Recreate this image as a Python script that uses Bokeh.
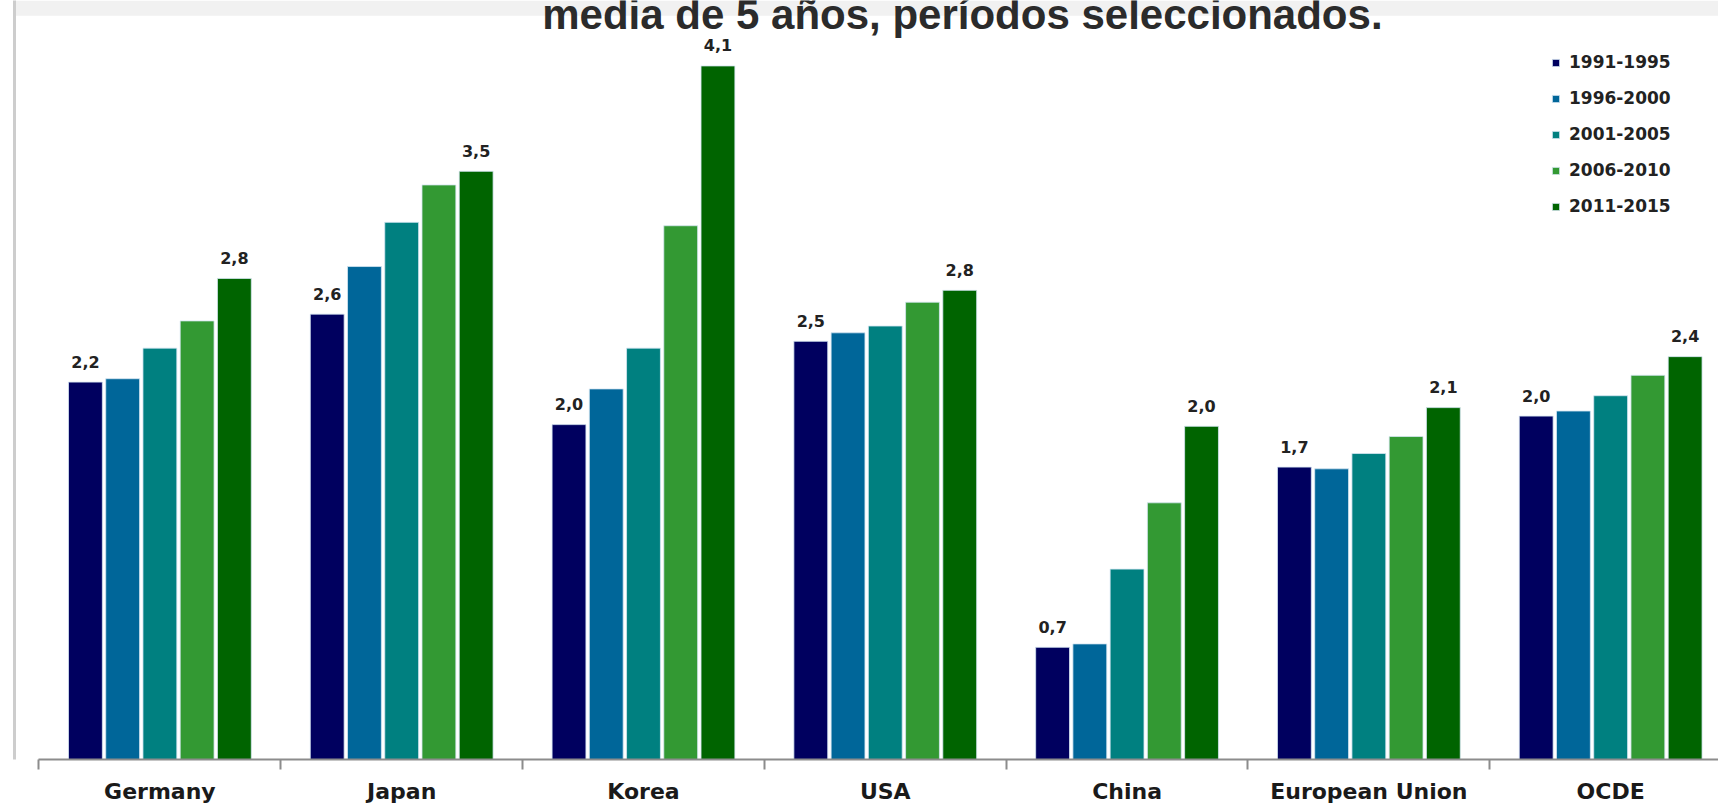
from bokeh.plotting import figure
from bokeh.models import (ColumnDataSource, Range1d, FixedTicker, LinearAxis,
                          Legend, LegendItem, Label, BoxAnnotation)
from bokeh.transform import dodge
from bokeh.core.properties import value
from bokeh.embed import file_html
from bokeh.resources import INLINE

# ---------------- data ----------------
categories = ["Germany", "Japan", "Korea", "USA", "China", "European Union", "OCDE"]
periods = ["1991-1995", "1996-2000", "2001-2005", "2006-2010", "2011-2015"]
v1991_1995 = [2.22, 2.62, 1.97, 2.46, 0.66, 1.72, 2.02]
v1996_2000 = [2.24, 2.90, 2.18, 2.51, 0.68, 1.71, 2.05]
v2001_2005 = [2.42, 3.16, 2.42, 2.55, 1.12, 1.80, 2.14]
v2006_2010 = [2.58, 3.38, 3.14, 2.69, 1.51, 1.90, 2.26]
v2011_2015 = [2.83, 3.46, 4.08, 2.76, 1.96, 2.07, 2.37]
title_text = "media de 5 años, períodos seleccionados."

# ---------------- styles ----------------
colors = ["#00005f", "#006699", "#008080", "#339933", "#006400"]
series = [v1991_1995, v1996_2000, v2001_2005, v2006_2010, v2011_2015]
pitch = 0.154
bar_w = 0.14
offsets = [(k - 2) * pitch for k in range(len(periods))]
label_font = "DejaVu Sans"

pos = list(range(1, len(categories) + 1))
bounds_ticks = [i + 0.5 for i in range(0, len(categories) + 1)]

data = dict(pos=pos, cat=categories)
for k, s in enumerate(series):
    data["s%d" % k] = s
src = ColumnDataSource(data)

p = figure(width=1718, height=806,
           x_range=Range1d(0.3987, 7.446), y_range=Range1d(0, 4.465),
           x_axis_type=None, y_axis_type=None,
           output_backend="svg", toolbar_location=None,
           min_border_left=14, min_border_right=0, min_border_top=0,
           min_border_bottom=0)
p.outline_line_color = None
p.background_fill_color = "white"
p.border_fill_color = "white"

# light grey strip along the top edge
p.add_layout(BoxAnnotation(bottom=4.376, fill_color="#f1f1f1", fill_alpha=1.0,
                           line_color=None, level="underlay"))

items = []
for k, name in enumerate(periods):
    r = p.vbar(x=dodge("pos", offsets[k], range=p.x_range), top="s%d" % k,
               width=bar_w, source=src, fill_color=colors[k],
               line_color="#d6e6f2", line_width=0.8)
    items.append(LegendItem(label=name, renderers=[r]))

# value labels on the first and last period
def fmt(v):
    return ("%.1f" % v).replace(".", ",")

for k in (0, len(periods) - 1):
    lsrc = ColumnDataSource(dict(
        pos=pos,
        y=[v + 0.085 for v in series[k]],
        text=[fmt(v) for v in series[k]]))
    p.text(x=dodge("pos", offsets[k], range=p.x_range), y="y", text="text",
           source=lsrc, text_align="center", text_baseline="bottom",
           text_font=value(label_font), text_font_style="bold",
           text_font_size="16px", text_color="#222222")

# x axis: labels at category centres, tick marks between categories
xaxis = LinearAxis(
    ticker=FixedTicker(ticks=pos, minor_ticks=bounds_ticks),
    major_label_overrides={i: c for i, c in zip(pos, categories)},
    bounds=(0.5, len(categories) + 0.5))
xaxis.axis_line_color = "#8c8c8c"
xaxis.axis_line_width = 2
xaxis.major_tick_line_color = None
xaxis.major_tick_out = 0
xaxis.major_tick_in = 0
xaxis.minor_tick_line_color = "#8c8c8c"
xaxis.minor_tick_line_width = 2
xaxis.minor_tick_in = 0
xaxis.minor_tick_out = 10
xaxis.major_label_text_font = label_font
xaxis.major_label_text_font_style = "bold"
xaxis.major_label_text_font_size = "22px"
xaxis.major_label_text_color = "#1a1a1a"
xaxis.major_label_standoff = 9
p.add_layout(xaxis, "below")

# left border line
yaxis = LinearAxis(ticker=FixedTicker(ticks=[]))
yaxis.major_label_text_font_size = "0px"
yaxis.major_tick_line_color = None
yaxis.minor_tick_line_color = None
yaxis.major_tick_out = 0
yaxis.minor_tick_out = 0
yaxis.major_label_standoff = 0
yaxis.axis_line_color = "#cdcdcd"
yaxis.axis_line_width = 3
p.add_layout(yaxis, "left")

legend = Legend(items=items, location=(1537, 543))
legend.padding = 0
legend.margin = 0
legend.border_line_color = None
legend.background_fill_alpha = 0
legend.glyph_width = 9
legend.glyph_height = 9
legend.label_standoff = 9
legend.label_height = 20
legend.spacing = 16
legend.label_text_font = label_font
legend.label_text_font_style = "bold"
legend.label_text_font_size = "17px"
legend.label_text_color = "#222222"
p.add_layout(legend)

title = Label(x=4.319, y=4.385, text=title_text, text_align="center",
              text_baseline="alphabetic", text_font="Liberation Sans",
              text_font_style="bold", text_font_size="42px",
              text_color="#2b2b2b")
p.add_layout(title)

open("out.html", "w").write(file_html(p, INLINE))
